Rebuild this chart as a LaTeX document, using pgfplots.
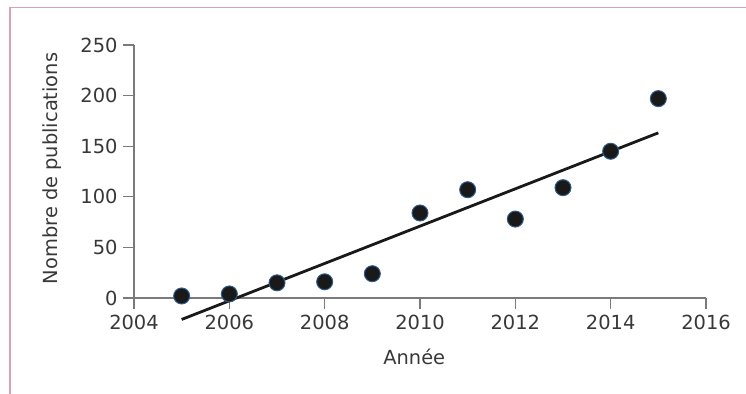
\documentclass[border=0pt]{standalone}
\usepackage{fontspec}
\setmainfont{DejaVu Sans}
\usepackage{pgfplots}
\pgfplotsset{compat=1.18}
\definecolor{txt}{HTML}{383838}
\definecolor{axgray}{HTML}{7A7A7A}
\definecolor{frame}{HTML}{D8A2B2}
\definecolor{edge}{HTML}{2E5C8A}
\begin{document}
\begin{tikzpicture}
\useasboundingbox (-134bp,-96bp) rectangle (612bp,298bp);
\draw[frame, line width=1.5bp] (-124bp,-96bp) -- (-124bp,290.5bp) -- (612bp,290.5bp);
\begin{axis}[
  at={(0,0)}, anchor=south west,
  scale only axis, width=572bp, height=253bp,
  xmin=2004, xmax=2016, ymin=0, ymax=250,
  xtick={2004,2006,...,2016}, ytick={0,50,...,250},
  axis x line*=bottom, axis y line*=left,
  axis line style={axgray, line width=1.3bp, -},
  tick style={axgray, line width=1.3bp},
  tick align=outside, major tick length=11bp,
  x tick label style={/pgf/number format/1000 sep={}, yshift=-3bp},
  y tick label style={xshift=-2bp},
  tick label style={txt, font=\fontsize{19.5}{22}\selectfont},
  /pgf/number format/assume math mode=true,
  xlabel={Année}, ylabel={Nombre de publications},
  label style={txt, font=\fontsize{19.5}{22}\selectfont},
  xlabel style={at={(rel axis cs:0.49,-0.233)}, anchor=center},
  ylabel style={at={(rel axis cs:-0.143,0.512)}, anchor=center},
  clip=false,
]
\addplot[black!90, line width=2.8bp] coordinates {(2005,-21.2) (2015,163.2)};
\addplot[only marks, mark=*, mark size=8bp, mark options={fill=black!90, draw=edge, line width=1bp}] coordinates {
(2005,2) (2006,4) (2007,15) (2008,16) (2009,24) (2010,84) (2011,107) (2012,78) (2013,109) (2014,145) (2015,197)
};
\end{axis}
\end{tikzpicture}
\end{document}
